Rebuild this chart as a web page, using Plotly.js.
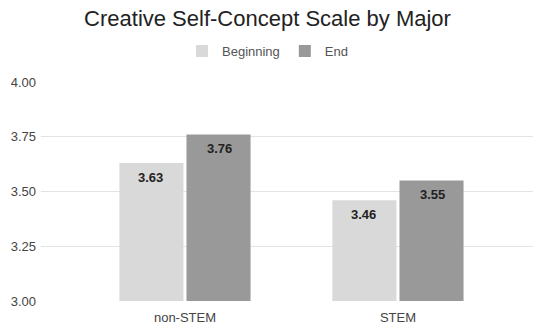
<!DOCTYPE html>
<html>
<head>
<meta charset="utf-8">
<script src="https://cdn.plot.ly/plotly-3.0.1.min.js"></script>
<style>html,body{margin:0;padding:0;background:#fff;}#chart{width:535px;height:325px;}</style>
</head>
<body>
<div id="chart"></div>
<script>
const categories = ["non-STEM", "STEM"];
const seriesNames = ["Beginning", "End"];
const beginning = [3.63, 3.46];
const end = [3.76, 3.55];
const yTicks = [3.00, 3.25, 3.50, 3.75, 4.00];

const colors = ["#d9d9d9", "#999999"];
const font = "'Liberation Sans', Arial, Helvetica, sans-serif";
const allSeries = [beginning, end];

const traces = allSeries.map((vals, i) => ({
  type: "bar",
  name: seriesNames[i],
  x: categories,
  y: vals,
  marker: {color: colors[i]},
  hoverinfo: "none"
}));

// data labels as annotations anchored to bar tops
const offsets = [-0.162, 0.162];
const annotations = [];
allSeries.forEach((vals, i) => {
  vals.forEach((v, j) => {
    annotations.push({
      x: j + offsets[i], y: v, xref: "x", yref: "y",
      text: "<b>" + v.toFixed(2) + "</b>",
      showarrow: false, yanchor: "middle", yshift: -14,
      font: {family: font, size: 13, color: "#222"}
    });
  });
});

const layout = {
  width: 535, height: 325,
  margin: {l: 41, r: 2, t: 82, b: 24},
  paper_bgcolor: "#fff", plot_bgcolor: "#fff",
  title: {text: "Creative Self-Concept Scale by Major", x: 0.5, xanchor: "center",
          y: 0.945, yanchor: "middle", yref: "container",
          font: {family: font, size: 22, color: "#222"}},
  barmode: "group", bargap: 0.37, bargroupgap: 0.045,
  showlegend: true,
  legend: {orientation: "h", x: 0.5, xanchor: "center", xref: "container",
           y: 0.843, yanchor: "middle", yref: "container",
           font: {family: font, size: 13, color: "#555"}, itemwidth: 30},
  xaxis: {type: "category", range: [-0.676, 1.634], showgrid: false, zeroline: false,
          showline: false, ticks: "", tickfont: {family: font, size: 13, color: "#444"},
          ticklabelstandoff: 7},
  yaxis: {range: [3, 4], tickvals: yTicks, ticktext: yTicks.map(t => t.toFixed(2)),
          showgrid: true, gridcolor: "#e3e3e3", gridwidth: 1, zeroline: false, showline: false,
          ticks: "", tickfont: {family: font, size: 13, color: "#444"}, ticklabelstandoff: 4},
  annotations: annotations
};

Plotly.newPlot("chart", traces, layout, {staticPlot: true, displayModeBar: false});
</script>
</body>
</html>
